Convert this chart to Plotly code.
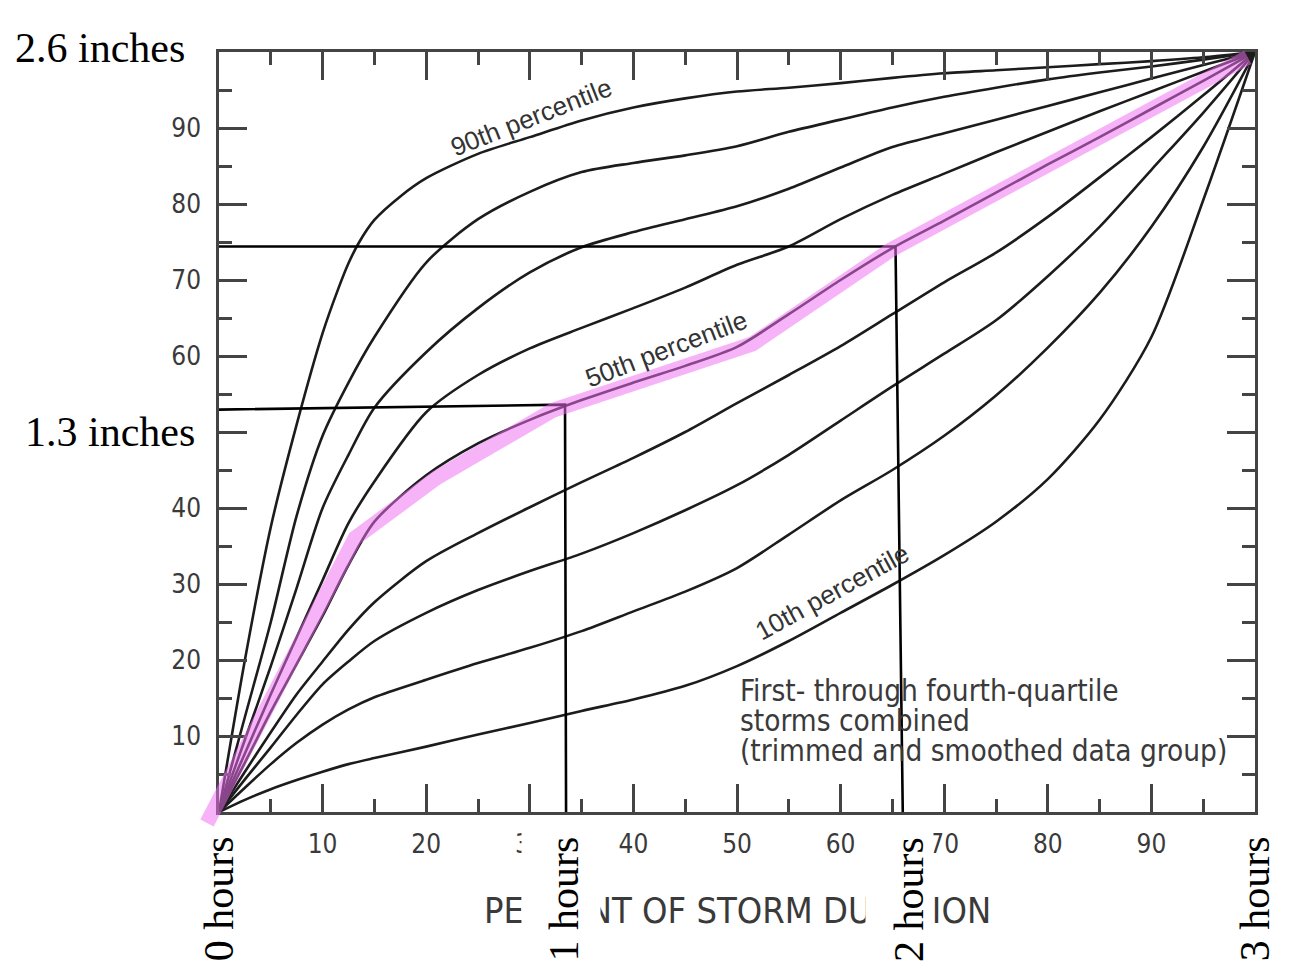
import plotly.graph_objects as go

# ---------------- data ----------------
PCT_DURATION = [0, 2.5, 5, 7.5, 10, 12.5, 15, 20, 25, 30, 35, 40, 45, 50, 55, 60, 65, 70, 75, 80, 85, 90, 95, 100]

X90 = [0, 2.5, 5, 7.5, 10, 11.5, 12.5, 13.5, 15, 17.5, 20, 25, 30, 35, 40, 45, 50, 55, 60, 65, 70, 75, 80, 85, 90, 95, 100]
P90 = [0, 20, 37.5, 51, 63, 68.8, 72.2, 74.9, 77.9, 81, 83.4, 86.6, 88.8, 91.0, 92.7, 93.9, 94.8, 95.3, 95.9, 96.6, 97.2, 97.6, 98.0, 98.4, 98.8, 99.3, 100]

P80 = [0, 12.5, 25, 39, 49.5, 56.5, 62.5, 72.3, 78, 81.6, 84.2, 85.4, 86.4, 87.6, 89.5, 91.1, 92.7, 94.1, 95.3, 96.4, 97.3, 98.1, 99.0, 100]
P70 = [0, 9.5, 19.2, 29.5, 40, 47, 53.2, 60.5, 66.3, 71, 74.3, 76.3, 78, 79.7, 82, 84.8, 87.5, 89.3, 91.1, 92.9, 94.7, 96.5, 98.3, 100]
P60 = [0, 7.7, 15.5, 23, 30.5, 38, 43.5, 52.6, 57.5, 61, 63.7, 66.3, 69, 72, 74.4, 78, 81.2, 84, 86.8, 89.5, 92.2, 94.8, 97.4, 100]
P50 = [0, 6.5, 13.2, 19.5, 25.8, 32.5, 38.2, 44.3, 48.5, 51.6, 54.2, 56.5, 58.7, 61.2, 65.5, 70, 74.2, 77.8, 81.5, 85.2, 88.8, 92.5, 96.2, 100]
P40 = [0, 5.3, 10.5, 15.5, 19.8, 24, 27.6, 33, 36.7, 40.1, 43.4, 46.6, 50, 53.8, 57.5, 61.3, 65.5, 69.7, 73.6, 78.3, 83.5, 88.8, 94.3, 100]
P30 = [0, 4.3, 8.5, 12.8, 16.8, 19.8, 22.5, 26.2, 29.2, 31.7, 34.0, 36.7, 39.7, 43, 47, 51.5, 56, 60.3, 64.7, 70.5, 77, 84.5, 92, 100]
P20 = [0, 3.2, 6.3, 9.1, 11.5, 13.5, 15.1, 17.4, 19.6, 21.6, 23.8, 26.4, 29, 32.1, 36.5, 41, 45, 49.5, 54.8, 61.1, 68.3, 77, 87.5, 100]
P10 = [0, 1.6, 3, 4.2, 5.3, 6.3, 7.1, 8.6, 10.2, 11.7, 13.3, 14.8, 16.6, 19.2, 22.5, 26.2, 29.9, 33.8, 38.2, 43.8, 51.6, 62.5, 80.5, 100]

CURVES = [(X90, P90), (PCT_DURATION, P80), (PCT_DURATION, P70), (PCT_DURATION, P60),
          (PCT_DURATION, P50), (PCT_DURATION, P40), (PCT_DURATION, P30),
          (PCT_DURATION, P20), (PCT_DURATION, P10)]

# pink highlight traced along the 50th percentile (percent of duration, percent of depth)
PINK_X = [-1.16, 13.14, 20.97, 32.27, 51.5, 64.83, 99.3]
PINK_Y = [-1.45, 36.05, 43.95, 52.89, 61.58, 73.95, 99.3]

# reading lines: 1 hour -> 1.3 inches, 2 hours
READ1_X = [0, 33.4, 33.5]
READ1_Y = [52.95, 53.6, 0]
READ2_X = [0, 65.3, 66.0]
READ2_Y = [74.4, 74.4, 0]

TICKS = [10, 20, 30, 40, 50, 60, 70, 80, 90]
X_TICK_TEXT = ["10", "20", "30", "40", "50", "60", "70", "80", "90"]
Y_TICK_TEXT = ["10", "20", "30", "40", "", "60", "70", "80", "90"]
MINOR = [5, 15, 25, 35, 45, 55, 65, 75, 85, 95]

HOUR_X = [0, 33.33, 66.67, 100]
HOUR_TEXT = ["0 hours", "1 hours", "2 hours", "3 hours"]

DEPTH_Y = [100.5, 50]
DEPTH_TEXT = ["2.6 inches", "1.3 inches"]

# ---------------- figure ----------------
COND = "Liberation Sans Narrow, Arial Narrow, DejaVu Sans Condensed, Roboto Condensed, Liberation Sans, sans-serif"
SERIF = "Liberation Serif, Times New Roman, serif"
GRAY = "#3a3a3a"

fig = go.Figure()
for xs, ys in CURVES:
    fig.add_trace(go.Scatter(x=xs, y=ys, mode="lines",
                             line=dict(color="#1c1c1c", width=2.6, shape="spline", smoothing=0.8),
                             hoverinfo="skip", showlegend=False))

for xs, ys in [(READ1_X, READ1_Y), (READ2_X, READ2_Y)]:
    fig.add_trace(go.Scatter(x=xs, y=ys, mode="lines", line=dict(color="black", width=2.6),
                             hoverinfo="skip", showlegend=False))

# pink highlight as paper-referenced path (range 0..100 maps onto domain 0..1)
path = "M " + " L ".join(f"{x/100:.5f},{y/100:.5f}" for x, y in zip(PINK_X, PINK_Y))
shapes = [dict(type="path", path=path, xref="paper", yref="paper", layer="above",
               line=dict(color="rgba(240,110,240,0.52)", width=15))]

axis_common = dict(range=[0, 100], tickvals=TICKS, ticks="inside",
                   ticklen=28, tickwidth=2.5, tickcolor="#444", showline=True, linecolor="#444",
                   linewidth=2.5, mirror="ticks", showgrid=False, zeroline=False,
                   tickfont=dict(family=COND, size=26, color=GRAY),
                   minor=dict(tickvals=MINOR, ticks="inside", ticklen=13, tickwidth=2.5, tickcolor="#444"))

annotations = []
# x-axis title (drawn as annotation so the cover boxes can sit over it)
annotations.append(dict(x=0.5, y=-0.129, xref="paper", yref="paper", text="PERCENT OF STORM DURATION",
                        xanchor="center", yanchor="middle",
                        showarrow=False, font=dict(family=COND, size=36, color=GRAY)))
# white cover boxes behind the hour labels
for cx, w in [(0.330, 78), (0.6573, 67)]:
    annotations.append(dict(x=cx, y=-0.104, xref="paper", yref="paper", text=" ", showarrow=False,
                            xanchor="center", yanchor="middle",
                            width=w, height=146, bgcolor="white", borderpad=0))
# hour labels
for hx, ht in zip(HOUR_X, HOUR_TEXT):
    annotations.append(dict(x=hx / 100, y=-0.030, xref="paper", yref="paper", text=ht, showarrow=False,
                            textangle=-90, xanchor="center", yanchor="top",
                            font=dict(family=SERIF, size=42, color="black")))
# depth labels
for dy, dt, dx in zip(DEPTH_Y, DEPTH_TEXT, [-0.031, -0.021]):
    annotations.append(dict(x=dx, y=dy / 100, xref="paper", yref="paper",
                            text=dt, showarrow=False, xanchor="right", yanchor="middle",
                            font=dict(family=SERIF, size=42, color="black")))
# curve labels
for lx, ly, ang, txt in [(30.2, 91.4, -21.5, "90th percentile"),
                         (43.2, 60.9, -20.8, "50th percentile"),
                         (59.2, 28.9, -28.7, "10th percentile")]:
    annotations.append(dict(x=lx, y=ly, xref="x", yref="y", text=txt, showarrow=False,
                            textangle=ang, font=dict(family="Liberation Sans, Arial, sans-serif", size=26, color="#333")))
# note
for ny, nt in [(15.9, "First- through fourth-quartile"), (11.97, "storms combined"),
               (8.0, "(trimmed and smoothed data group)")]:
    annotations.append(dict(x=50.1, y=ny, xref="x", yref="y", text=nt, showarrow=False,
                            xanchor="left", yanchor="middle",
                            font=dict(family=COND, size=29.5, color=GRAY)))

fig.update_layout(width=1290, height=964, margin=dict(l=211, r=43, t=44, b=160),
                  plot_bgcolor="white", paper_bgcolor="white", showlegend=False,
                  xaxis=dict(**axis_common, ticktext=X_TICK_TEXT, ticklabelstandoff=7),
                  yaxis=dict(**axis_common, ticktext=Y_TICK_TEXT, ticklabelstandoff=10),
                  shapes=shapes, annotations=annotations)

fig.write_html("out.html")
